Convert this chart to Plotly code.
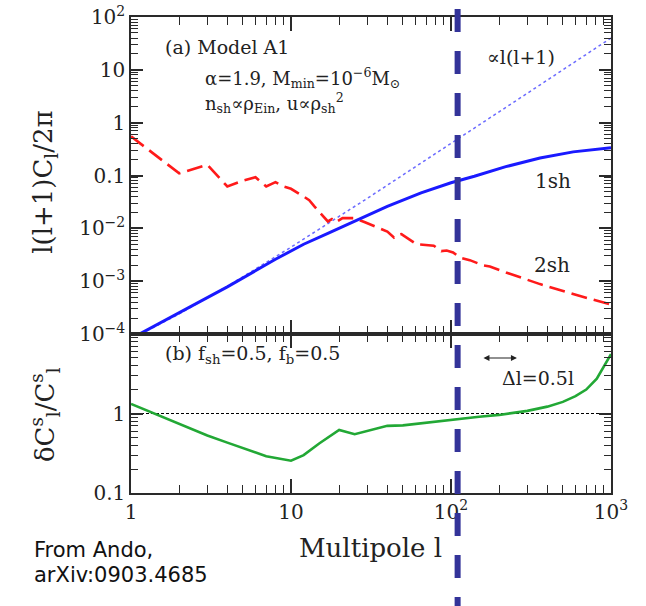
import plotly.graph_objects as go
from plotly.subplots import make_subplots

# ---------------- data ----------------
l_1sh = [1, 2, 4, 8, 12, 17, 26, 40, 65, 100, 140, 220, 360, 580, 1000]
cl_1sh = [8.2e-5, 2.5e-4, 7.8e-4, 2.6e-3, 5.0e-3, 8.0e-3, 1.45e-2, 2.6e-2, 4.7e-2,
          7.3e-2, 9.7e-2, 0.147, 0.214, 0.28, 0.336]

l_2sh = [1, 2, 3, 4, 5, 6, 7, 8, 9, 10, 12, 13, 14, 16, 17, 18, 19, 21, 25, 29, 34,
         40, 44, 46, 49, 54, 61, 78, 87, 94, 103, 114, 131, 158, 175, 221, 360, 580, 1000]
cl_2sh = [0.55, 0.11, 0.16, 0.062, 0.080, 0.093, 0.062, 0.075, 0.062, 0.056, 0.040,
          0.034, 0.026, 0.0166, 0.0135, 0.015, 0.013, 0.0156, 0.0156, 0.013, 0.0105,
          0.0087, 0.0067, 0.0075, 0.0078, 0.0063, 0.0050, 0.0047, 0.0037, 0.0038,
          0.0035, 0.0028, 0.0025, 0.0020, 0.0019, 0.00146, 0.00088, 0.00057, 0.00036]

l_pow = [1, 2, 4, 10, 30, 100, 300, 1000]
cl_pow = [8e-5, 2.4e-4, 8e-4, 4.4e-3, 3.7e-2, 0.40, 3.6, 40]

l_ratio = [1, 2, 3, 4, 5, 7, 10, 12, 15, 20, 25, 30, 40, 50, 70, 100, 150, 200,
           300, 400, 500, 600, 700, 815, 900, 1000]
ratio = [1.32, 0.74, 0.53, 0.43, 0.37, 0.29, 0.255, 0.30, 0.42, 0.62, 0.55, 0.60,
         0.70, 0.71, 0.77, 0.84, 0.91, 0.96, 1.08, 1.22, 1.40, 1.65, 2.0, 2.74, 3.9, 5.6]

ref_ratio = [1, 1]
ref_l = [1, 1000]

marker_l = 110  # vertical dashed marker

# tick labels: default plotly log label -> label shown in the figure
x_label_src = ["100", "1000", "1k"]
x_label_txt = ["10<sup>2</sup>", "10<sup>3</sup>", "10<sup>3</sup>"]
y1_label_src = ["100", "0.01", "0.001", "1m", "100\u03bc", "100\u00b5", "0.0001"]
y1_label_txt = ["10<sup>2</sup>", "10<sup>\u22122</sup>", "10<sup>\u22123</sup>",
                "10<sup>\u22123</sup>", "10<sup>\u22124</sup>", "10<sup>\u22124</sup>",
                "10<sup>\u22124</sup>"]
y2_label_src = ["10"]
y2_label_txt = [""]

SERIF = "DejaVu Serif"
FRAME = "#2a2a2a"

fig = make_subplots(rows=2, cols=1, shared_xaxes=True, vertical_spacing=0,
                    row_heights=[0.666, 0.334])

fig.add_trace(go.Scatter(x=l_pow, y=cl_pow, mode="lines",
                         line=dict(color="#6b6bff", width=1.5, dash="dot"),
                         showlegend=False), row=1, col=1)
fig.add_trace(go.Scatter(x=l_2sh, y=cl_2sh, mode="lines",
                         line=dict(color="#ff1a1a", width=2.6, dash="16px,7px"),
                         showlegend=False), row=1, col=1)
fig.add_trace(go.Scatter(x=l_1sh, y=cl_1sh, mode="lines",
                         line=dict(color="#1a1aff", width=3),
                         showlegend=False), row=1, col=1)

fig.add_trace(go.Scatter(x=ref_l, y=ref_ratio, mode="lines",
                         line=dict(color="black", width=1.2, dash="3px,2px"),
                         showlegend=False), row=2, col=1)
fig.add_trace(go.Scatter(x=l_ratio, y=ratio, mode="lines",
                         line=dict(color="#22a835", width=2.6),
                         showlegend=False), row=2, col=1)

axis_common = dict(type="log", showline=True, linecolor=FRAME, linewidth=1.5,
                   mirror="ticks", ticks="inside", tickcolor=FRAME, tickwidth=1.6,
                   showgrid=False, zeroline=False, tickmode="linear", tick0=0, dtick=1,
                   tickfont=dict(family=SERIF, size=20, color="#222"))

fig.update_xaxes(**axis_common, range=[0, 3], ticklen=14,
                 labelalias=dict(zip(x_label_src, x_label_txt)),
                 minor=dict(ticks="inside", ticklen=8, tickcolor=FRAME, tickwidth=1.4,
                            dtick="D1", showgrid=False))
fig.update_xaxes(showticklabels=False, row=1, col=1)
fig.update_yaxes(**axis_common, range=[-4, 2], ticklen=12,
                 labelalias=dict(zip(y1_label_src, y1_label_txt)),
                 minor=dict(ticks="inside", ticklen=7, tickcolor=FRAME, tickwidth=1.4,
                            dtick="D1", showgrid=False), row=1, col=1)
fig.update_yaxes(**axis_common, range=[-1, 1], ticklen=12,
                 labelalias=dict(zip(y2_label_src, y2_label_txt)),
                 minor=dict(ticks="inside", ticklen=7, tickcolor=FRAME, tickwidth=1.4,
                            dtick="D1", showgrid=False), row=2, col=1)

fig.add_shape(type="line", xref="x", yref="paper", x0=marker_l, x1=marker_l,
              y0=1.105, y1=-0.30, layer="above",
              line=dict(color="#333399", width=6, dash="23px,19px"))


def ann(text, x, y, size=18, xanchor="left", yanchor="middle", font=SERIF, angle=0,
        color="#222"):
    fig.add_annotation(text=text, x=x, y=y, xref="paper", yref="paper",
                       xanchor=xanchor, yanchor=yanchor, showarrow=False,
                       textangle=angle, font=dict(family=font, size=size, color=color))


ann("(a) Model A1", 0.067, 0.937, size=19)
ann("\u03b1=1.9, M<sub>min</sub>=10<sup>\u22126</sup>M<sub>\u2299</sub>", 0.15, 0.872, size=18)
ann("n<sub>sh</sub>\u221d\u03c1<sub>Ein</sub>, u\u221d\u03c1<sub>sh</sub><sup>2</sup>", 0.15, 0.820, size=18)
ann("\u221dl(l+1)", 0.7375, 0.916, size=19)
ann("1sh", 0.8375, 0.655, size=20)
ann("2sh", 0.835, 0.479, size=20)
ann("(b) f<sub>sh</sub>=0.5, f<sub>b</sub>=0.5", 0.067, 0.29, size=19)
ann("\u0394l=0.5l", 0.769, 0.2416, size=19)
fig.add_annotation(x=0.804, y=0.2836, xref="paper", yref="paper", ax=-35, ay=0,
                   text="", showarrow=True, arrowside="end+start", arrowhead=2,
                   arrowsize=1, arrowwidth=1.2, arrowcolor="#222")

ann("l(l+1)C<sub>l</sub>/2\u03c0", -0.18, 0.653, size=26, xanchor="center", angle=-90)
ann("\u03b4C<sup>s</sup><sub>l</sub>/C<sup>s</sup><sub>l</sub>", -0.18, 0.165, size=26,
    xanchor="center", angle=-90)
ann("Multipole l", 0.498, -0.1155, size=26, xanchor="center")
ann("From Ando,", -0.206, -0.1197, size=21, font="DejaVu Sans", color="#111")
ann("arXiv:0903.4685", -0.206, -0.1733, size=21, font="DejaVu Sans", color="#111")

fig.update_layout(template="none", width=646, height=606,
                  margin=dict(l=131, r=35, t=17, b=113),
                  plot_bgcolor="white", paper_bgcolor="white", showlegend=False)

fig.write_html("out.html")
